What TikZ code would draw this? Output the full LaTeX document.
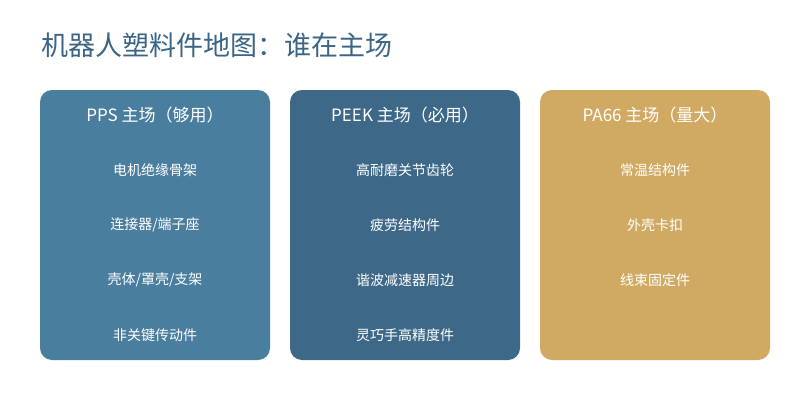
\documentclass[tikz,border=0pt]{standalone}
\usepackage{fontspec}
\setmainfont{Noto Sans CJK SC}
\begin{document}
\begin{tikzpicture}[x=1pt,y=-1pt,
  panel/.style={rounded corners=12pt},
  head/.style={text=white, font=\fontsize{17}{20}\selectfont},
  item/.style={text=white, font=\fontsize{14}{17}\selectfont}]
  \definecolor{ppsblue}{HTML}{4A7E9E}
  \definecolor{peekblue}{HTML}{3D6888}
  \definecolor{pagold}{HTML}{D0AA62}
  \definecolor{titleblue}{HTML}{3A6585}
  \useasboundingbox (0,0) rectangle (800,420);
  \node[anchor=west, text=titleblue, font=\fontsize{27}{32}\selectfont] (title) at (38,45) {机器人塑料件地图：谁在主场};
  % three panels
  \fill[panel, ppsblue] (40,90) rectangle (270,360);
  \fill[panel, peekblue] (290,90) rectangle (520,360);
  \fill[panel, pagold] (540,90) rectangle (770,360);
  \node[head] (pps) at (155,115) {PPS 主场（够用）};
  \node[head] (peek) at (405,115) {PEEK 主场（必用）};
  \node[head] (pa) at (655,115) {PA66 主场（量大）};
  \foreach \t [count=\i] in {电机绝缘骨架, 连接器/端子座, 壳体/罩壳/支架, 非关键传动件}
    \node[item] (pps\i) at (155,115+55*\i) {\t};
  \foreach \t [count=\i] in {高耐磨关节齿轮, 疲劳结构件, 谐波减速器周边, 灵巧手高精度件}
    \node[item] (peek\i) at (405,115+55*\i) {\t};
  \foreach \t [count=\i] in {常温结构件, 外壳卡扣, 线束固定件}
    \node[item] (pa\i) at (655,115+55*\i) {\t};
\end{tikzpicture}
\end{document}
